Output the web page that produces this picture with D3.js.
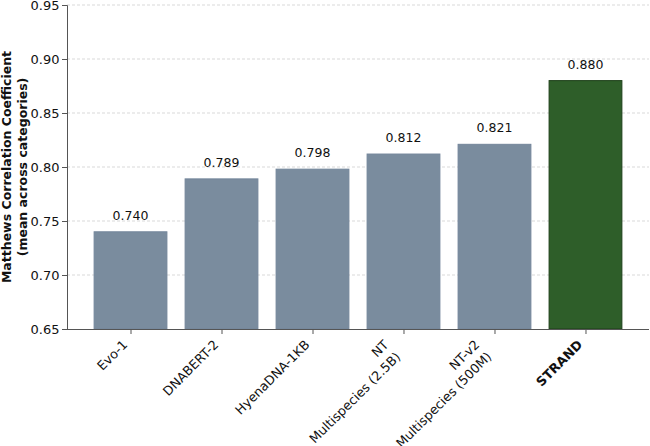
<!DOCTYPE html>
<html>
<head>
<meta charset="utf-8">
<script src="https://cdn.jsdelivr.net/npm/d3@7"></script>
<style>
  html, body { margin: 0; padding: 0; background: #fff; }
  svg { display: block; font-family: "DejaVu Sans", sans-serif; }
</style>
</head>
<body>
<svg id="chart" width="650" height="446"></svg>
<script>
const categories = ["Evo-1", "DNABERT-2", "HyenaDNA-1KB", "NT\nMultispecies (2.5B)", "NT-v2\nMultispecies (500M)", "STRAND"];
const values = [0.740, 0.789, 0.798, 0.812, 0.821, 0.880];
const highlight = [false, false, false, false, false, true];
const yTicks = [0.65, 0.70, 0.75, 0.80, 0.85, 0.90, 0.95];
const yLabelLines = ["Matthews Correlation Coefficient", "(mean across categories)"];

(function () {
const svg = d3.select("#chart");
const mLeft = 67, mRight = 649, mTop = 5, mBottom = 329;

const x = d3.scalePoint().domain(categories).range([mLeft, mRight]).padding(0.698);
const step = x.step();
const barW = step * 0.8;
const y = d3.scaleLinear().domain([0.65, 0.95]).range([mBottom, mTop]);

// grid
svg.append("g").selectAll("line").data(yTicks.slice(1)).join("line")
  .attr("x1", mLeft).attr("x2", mRight)
  .attr("y1", d => y(d)).attr("y2", d => y(d))
  .attr("stroke", "#cfcfcf").attr("stroke-width", 0.8)
  .attr("stroke-dasharray", "3,2");

// bars
svg.append("g").selectAll("rect").data(categories).join("rect")
  .attr("x", d => x(d) - barW / 2)
  .attr("width", barW)
  .attr("y", (d, i) => y(values[i]))
  .attr("height", (d, i) => mBottom - y(values[i]))
  .attr("fill", (d, i) => highlight[i] ? "#2e5e29" : "#7a8c9e")
  .attr("stroke", (d, i) => highlight[i] ? "#1d3f19" : "#73859a")
  .attr("stroke-width", 1);

// value labels
svg.append("g").selectAll("text").data(categories).join("text")
  .attr("x", d => x(d))
  .attr("y", (d, i) => y(values[i]) - 12)
  .attr("text-anchor", "middle")
  .attr("font-size", "12.5px")
  .attr("fill", "#111")
  .text((d, i) => values[i].toFixed(3));

// y axis
const yAxis = d3.axisLeft(y).tickValues(yTicks).tickFormat(d3.format(".2f")).tickSize(5).tickPadding(2.5);
const yg = svg.append("g").attr("transform", `translate(${mLeft},0)`).call(yAxis);
yg.select(".domain").attr("stroke", "#555").attr("stroke-width", 1);
yg.selectAll(".tick line").attr("stroke", "#555");
yg.selectAll(".tick text").attr("font-size", "13px").attr("fill", "#111").attr("font-family", "DejaVu Sans");

// x axis
const xAxis = d3.axisBottom(x).tickSize(5).tickFormat("");
const xg = svg.append("g").attr("transform", `translate(0,${mBottom})`).call(xAxis);
xg.select(".domain").attr("d", `M${mLeft},0.5H${mRight}`).attr("stroke", "#555").attr("stroke-width", 1);
xg.selectAll(".tick line").attr("stroke", "#555");

// x tick labels (rotated 45, bbox aligned right/top like matplotlib)
const lineH = 17;
categories.forEach((c, i) => {
  const g = svg.append("g");
  const inner = g.append("g").attr("transform", "rotate(-45)");
  const lines = c.split("\n");
  lines.forEach((ln, k) => {
    inner.append("text")
      .attr("x", 0)
      .attr("y", (k - (lines.length - 1)) * lineH)
      .attr("text-anchor", "end")
      .attr("font-size", "12.8px")
      .attr("font-weight", highlight[i] ? "bold" : "normal")
      .attr("fill", "#111")
      .text(ln);
  });
  const bb = g.node().getBoundingClientRect();
  const tx = x(c) - bb.right;
  const ty = (mBottom + 8) - bb.top;
  g.attr("transform", `translate(${tx},${ty})`);
});

// y label
const yl = svg.append("text")
  .attr("transform", `translate(11,${(mTop + mBottom) / 2}) rotate(-90)`)
  .attr("text-anchor", "middle")
  .attr("font-size", "12.5px")
  .attr("font-weight", "bold")
  .attr("fill", "#111");
yLabelLines.forEach((ln, k) => {
  yl.append("tspan").attr("x", 0).attr("dy", k === 0 ? 0 : 16).text(ln);
});
})();
</script>
</body>
</html>
